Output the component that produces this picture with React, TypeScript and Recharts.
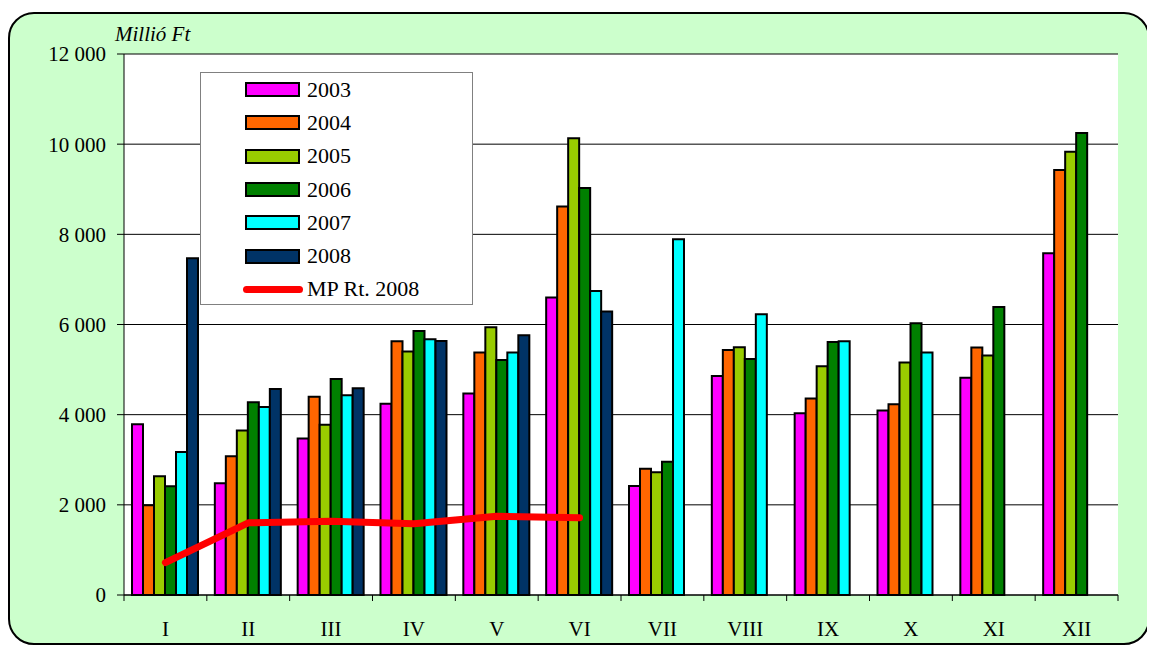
import { ComposedChart, Bar, Line, XAxis, YAxis, CartesianGrid, Legend } from "recharts";

const months = ["I", "II", "III", "IV", "V", "VI", "VII", "VIII", "IX", "X", "XI", "XII"];
const y2003 = [3790, 2480, 3470, 4240, 4470, 6600, 2415, 4855, 4030, 4090, 4820, 7580];
const y2004 = [1990, 3080, 4400, 5630, 5380, 8620, 2800, 5435, 4360, 4230, 5490, 9425];
const y2005 = [2635, 3650, 3775, 5400, 5940, 10130, 2720, 5495, 5075, 5155, 5315, 9830];
const y2006 = [2410, 4275, 4790, 5858, 5210, 9030, 2958, 5233, 5610, 6030, 6390, 10250];
const y2007 = [3170, 4170, 4433, 5672, 5380, 6742, 7890, 6225, 5630, 5380, null, null];
const y2008 = [7467, 4570, 4588, 5632, 5762, 6290, null, null, null, null, null, null];
const mp2008 = [720, 1600, 1635, 1580, 1745, 1715, null, null, null, null, null, null];
const yTicks = [0, 2000, 4000, 6000, 8000, 10000, 12000];

const barSeries = [
  { key: "y2003", name: "2003", color: "#FF00FF", values: y2003 },
  { key: "y2004", name: "2004", color: "#FF6600", values: y2004 },
  { key: "y2005", name: "2005", color: "#99CC00", values: y2005 },
  { key: "y2006", name: "2006", color: "#008000", values: y2006 },
  { key: "y2007", name: "2007", color: "#00FFFF", values: y2007 },
  { key: "y2008", name: "2008", color: "#003366", values: y2008 },
];
const lineName = "MP Rt. 2008";

const data = months.map((month, i) => {
  const row: Record<string, string | number | null> = { month, mp2008: mp2008[i] };
  barSeries.forEach((s) => (row[s.key] = s.values[i]));
  return row;
});

const CHART_W = 1138;
const CHART_H = 629;
const MARGIN = { top: 40, right: 30, bottom: 8, left: 0 };
const Y_AXIS_W = 114;
const BAND = (CHART_W - MARGIN.left - MARGIN.right - Y_AXIS_W) / months.length;
const FONT = "Liberation Serif, Times New Roman, serif";

const fmtThousands = (v: number) =>
  v === 0 ? "0" : `${Math.floor(v / 1000)} ${String(v % 1000).padStart(3, "0")}`;

function MonthTick(props: any) {
  const { x, y, payload, index } = props;
  const left = x - BAND / 2;
  return (
    <g>
      <line x1={left} y1={y} x2={left} y2={y + 6} stroke="#000" />
      {index === months.length - 1 && (
        <line x1={x + BAND / 2} y1={y} x2={x + BAND / 2} y2={y + 6} stroke="#000" />
      )}
      <text x={x} y={y + 41} textAnchor="middle" fontFamily={FONT} fontSize={21} fill="#000">
        {payload.value}
      </text>
    </g>
  );
}

function LegendBox() {
  const row = { height: 33.3, display: "flex", alignItems: "center" } as const;
  return (
    <div
      style={{
        width: 273,
        height: 233,
        boxSizing: "border-box",
        background: "#fff",
        border: "1px solid #808080",
        fontFamily: FONT,
        fontSize: 22,
        color: "#000",
      }}
    >
      {barSeries.map((s) => (
        <div key={s.key} style={row}>
          <span
            style={{
              marginLeft: 44,
              width: 55,
              height: 15,
              boxSizing: "border-box",
              background: s.color,
              border: "2px solid #000",
            }}
          />
          <span style={{ marginLeft: 7 }}>{s.name}</span>
        </div>
      ))}
      <div style={row}>
        <span style={{ marginLeft: 42, width: 60, height: 7, background: "#FF0000", borderRadius: 4 }} />
        <span style={{ marginLeft: 4 }}>{lineName}</span>
      </div>
    </div>
  );
}

export default function App() {
  return (
    <div
      style={{
        position: "relative",
        marginTop: 4,
        width: CHART_W,
        height: CHART_H,
        background: "#CCFFCC",
        border: "2px solid #000",
        borderRadius: 26,
      }}
    >
      <div
        style={{
          position: "absolute",
          left: 105,
          top: 10,
          fontFamily: FONT,
          fontStyle: "italic",
          fontSize: 21,
          lineHeight: "20px",
        }}
      >
        Millió Ft
      </div>
      <ComposedChart width={CHART_W} height={CHART_H} data={data} margin={MARGIN} barCategoryGap={8} barGap={0}>
        <CartesianGrid vertical={false} stroke="#000" fill="#fff" />
        <XAxis
          dataKey="month"
          height={40}
          interval={0}
          tickSize={0}
          tickMargin={0}
          tickLine={false}
          axisLine={{ stroke: "#000" }}
          tick={<MonthTick />}
        />
        <YAxis
          width={Y_AXIS_W}
          domain={[0, 12000]}
          ticks={yTicks}
          tickFormatter={fmtThousands}
          tickSize={7}
          tickMargin={11}
          axisLine={{ stroke: "#000" }}
          tickLine={{ stroke: "#000" }}
          tick={{ fill: "#000", fontFamily: FONT, fontSize: 21 }}
        />
        <YAxis yAxisId="frame" orientation="right" width={0} tick={false} tickLine={false} axisLine={{ stroke: "#808080" }} />
        {barSeries.map((s) => (
          <Bar
            key={s.key}
            dataKey={s.key}
            name={s.name}
            fill={s.color}
            stroke="#000"
            strokeWidth={2}
            isAnimationActive={false}
          />
        ))}
        <Line
          dataKey="mp2008"
          name={lineName}
          type="linear"
          stroke="#FF0000"
          strokeWidth={7}
          strokeLinecap="round"
          strokeLinejoin="round"
          dot={false}
          activeDot={false}
          isAnimationActive={false}
        />
        <Legend
          layout="vertical"
          align="center"
          verticalAlign="middle"
          content={<LegendBox />}
          wrapperStyle={{ left: 190, top: 58, width: 273, height: 233 }}
        />
      </ComposedChart>
    </div>
  );
}
